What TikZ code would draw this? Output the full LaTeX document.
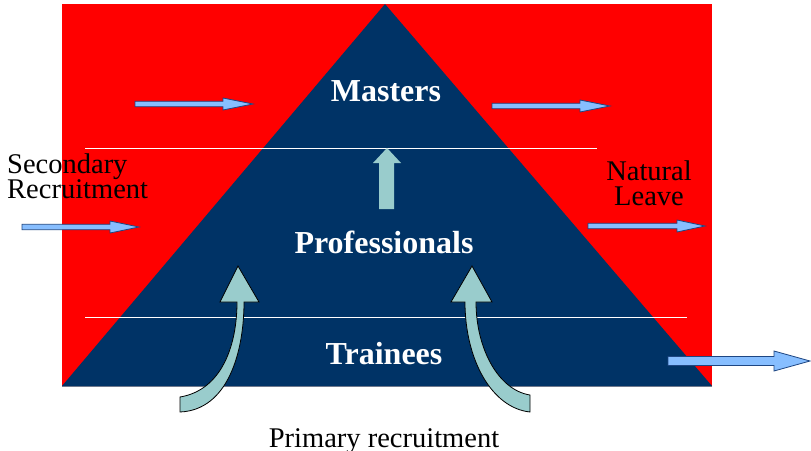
\documentclass[tikz,border=0pt]{standalone}
\usepackage{fontspec}
\setmainfont{Liberation Serif}
\newfontfamily\sidefont{Liberation Serif}
\definecolor{pyrred}{RGB}{255,0,0}
\definecolor{pyrnavy}{RGB}{0,51,102}
\definecolor{arrblue}{RGB}{135,190,255}
\definecolor{arredge}{RGB}{30,70,130}
\definecolor{arrteal}{RGB}{153,204,204}
\definecolor{baselinegray}{RGB}{110,120,140}
\newcommand{\harrow}[6]{% x1 x2 y halfshaft halfhead headlen
  \filldraw[flatarrow] (#1,#3-#4) -- (#2-#6,#3-#4) -- (#2-#6,#3-#5) -- (#2,#3)
    -- (#2-#6,#3+#5) -- (#2-#6,#3+#4) -- (#1,#3+#4) -- cycle;}
\begin{document}
\begin{tikzpicture}[x=1pt,y=-1pt,
  flatarrow/.style={fill=arrblue,draw=arredge,line width=0.8pt,line join=miter},
  curvearrow/.style={fill=arrteal,draw=black,line width=0.8pt},
  bigtext/.style={text=white,font=\fontsize{32}{32}\selectfont\bfseries,anchor=base},
  sidetext/.style={font=\sidefont\fontsize{28.5}{25}\selectfont,inner sep=0pt}]
\useasboundingbox (0,0) rectangle (811,450);
\fill[pyrred] (62,4) rectangle (712,386);
\fill[pyrnavy] (62,386) -- (385,4) -- (712,386) -- cycle;
\draw[baselinegray,line width=1pt] (62,386) -- (712,386);
\draw[white,line width=0.8pt] (85,148) -- (597,148);
\draw[white,line width=0.8pt] (85,317) -- (687,317);
% straight arrows
\harrow{135}{253}{104}{2.7}{6}{30}
\harrow{492}{610}{106}{2.7}{6}{30}
\harrow{22}{139}{227}{2.7}{6}{29}
\harrow{588}{705}{226}{2.7}{6}{28}
\harrow{668}{810}{361}{4.5}{10}{36}
% middle up arrow
\fill[arrteal] (379,209) -- (379,163) -- (373,163) -- (387,148) -- (401,163) -- (394,163) -- (394,209) -- cycle;
% curved arrows
\filldraw[curvearrow] (180,397) .. controls (222,390) and (237,345) .. (237,302)
  -- (220,302) -- (238,266) -- (259,302) -- (244,302)
  .. controls (244,352) and (228,410) .. (180,412) -- cycle;
\filldraw[curvearrow] (530,395) .. controls (498,390) and (476,348) .. (476,302)
  -- (492,302) -- (472,266) -- (451,302) -- (465,302)
  .. controls (465,360) and (492,408) .. (530,412) -- cycle;
% texts
\node[bigtext] (masters) at (386,101) {Masters};
\node[bigtext] (prof) at (384,253) {Professionals};
\node[bigtext] (train) at (384,364) {Trainees};
\node[sidetext,anchor=base west] (sec1) at (7,173) {Secondary};
\node[sidetext,anchor=base west] (sec2) at (7,198) {Recruitment};
\node[sidetext,anchor=base] (nat1) at (649,180) {Natural};
\node[sidetext,anchor=base] (nat2) at (649,205) {Leave};
\node[sidetext,anchor=base] (prim) at (384,447) {Primary recruitment};
\end{tikzpicture}
\end{document}
